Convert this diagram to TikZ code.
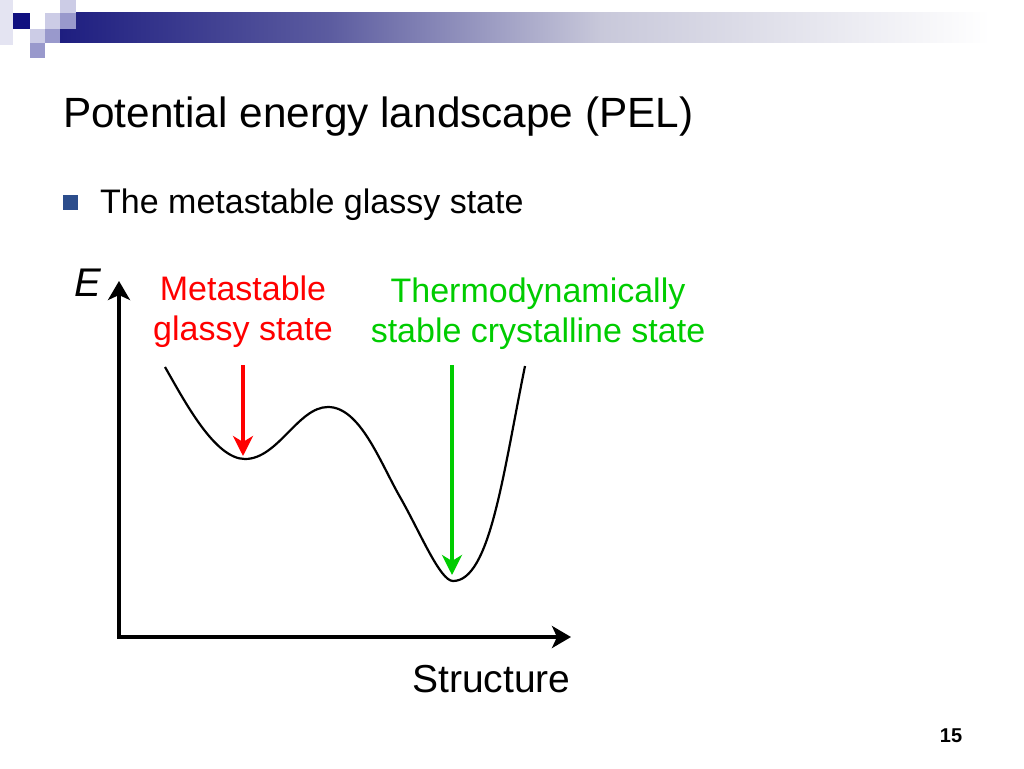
\documentclass[tikz,border=0pt]{standalone}
\usepackage{fontspec}
\setmainfont{Liberation Sans}
\usetikzlibrary{arrows.meta}
\definecolor{barnavy}{RGB}{30,30,128}
\definecolor{barmid}{RGB}{92,92,160}
\definecolor{barpale}{RGB}{200,200,218}
\definecolor{boxnavy}{RGB}{16,16,128}
\definecolor{lavlight}{RGB}{204,204,230}
\definecolor{lavmid}{RGB}{153,153,204}
\definecolor{lavpale}{RGB}{228,228,242}
\definecolor{bulletblue}{RGB}{44,77,140}
\definecolor{glassred}{RGB}{255,0,0}
\definecolor{crystgreen}{RGB}{0,204,0}

\begin{document}
\begin{tikzpicture}[x=1pt,y=-1pt,
     txt/.style={inner sep=0pt},
     headtext/.style={txt,font=\fontsize{42.3}{50}\selectfont},
     bodytext/.style={txt,font=\fontsize{34}{40}\selectfont},
     labeltext/.style={txt,align=center,font=\fontsize{34}{40}\selectfont},
     axistip/.tip={Stealth[length=19pt,width=22pt,inset=5pt]},
     pointtip/.tip={Stealth[length=20pt,width=20pt,inset=6pt]},
     axis/.style={line width=3.5pt,axistip-axistip},
     pointer/.style={line width=3.5pt,-pointtip},
     landscape/.style={line width=2.2pt}]
     \useasboundingbox (0,0) rectangle (1024,768);
     \shade[left color=barnavy,right color=barmid]  ( 60,13) rectangle (331,43);
     \shade[left color=barmid,right color=barpale]  (330,13) rectangle (601,43);
     \shade[left color=barpale,right color=white]   (600,13) rectangle (990,43);
     \fill[lavpale]  ( 0, 0) rectangle (13,45);
     \fill[boxnavy]  (13,13) rectangle (30,29);
     \fill[lavlight] (45,13) rectangle (60,29);
     \fill[lavlight] (60, 0) rectangle (76,13);
     \fill[lavmid]   (60,13) rectangle (76,29);
     \fill[lavlight] (30,29) rectangle (45,43);
     \fill[lavmid]   (45,29) rectangle (60,43);
     \fill[lavmid]   (30,43) rectangle (45,58);
     \fill[bulletblue] (63,195) rectangle (78,210);
     \node[headtext,anchor=base west] (head)  at ( 63,127) {Potential energy landscape (PEL)};
     \node[bodytext,anchor=base west] (point) at (100,213) {The metastable glassy state};
     \node[txt,anchor=base west,font=\fontsize{40}{48}\selectfont\itshape] (elabel) at (74,296) {E};
     \node[txt,anchor=base,font=\fontsize{39}{46}\selectfont] (slabel) at (491.5,692) {Structure};
     \node[labeltext,anchor=base,text=glassred]   (glasslbl) at (243,340) {Metastable\\glassy state};
     \node[labeltext,anchor=base,text=crystgreen] (crystlbl) at (538,342) {Thermodynamically\\stable crystalline state};
     \node[txt,anchor=base,font=\fontsize{20}{24}\selectfont\bfseries] (pagenum) at (951,742) {15};
     \coordinate (etop)      at (119,281);
     \coordinate (origin)    at (119,637);
     \coordinate (send)      at (571,637);
     \coordinate (glasstop)  at (243,365);
     \coordinate (glassmin)  at (243,456);
     \coordinate (crysttop)  at (452,365);
     \coordinate (crystmin)  at (452,575);
     \draw[axis] (etop) -- (origin) -- (send);
     \draw[landscape] (165,367) .. controls (185,402) and (215,459) .. (245,459)
      .. controls (278,459) and (298,407) .. (328,407)
      .. controls (360,407) and (380,462) .. (400,497)
      .. controls (420,532) and (440,581) .. (453,581)
      .. controls (490,581) and (503,474) .. (525,366);
     \draw[pointer,glassred]   (glasstop) -- (glassmin);
     \draw[pointer,crystgreen] (crysttop) -- (crystmin);
    \end{tikzpicture}
\end{document}
